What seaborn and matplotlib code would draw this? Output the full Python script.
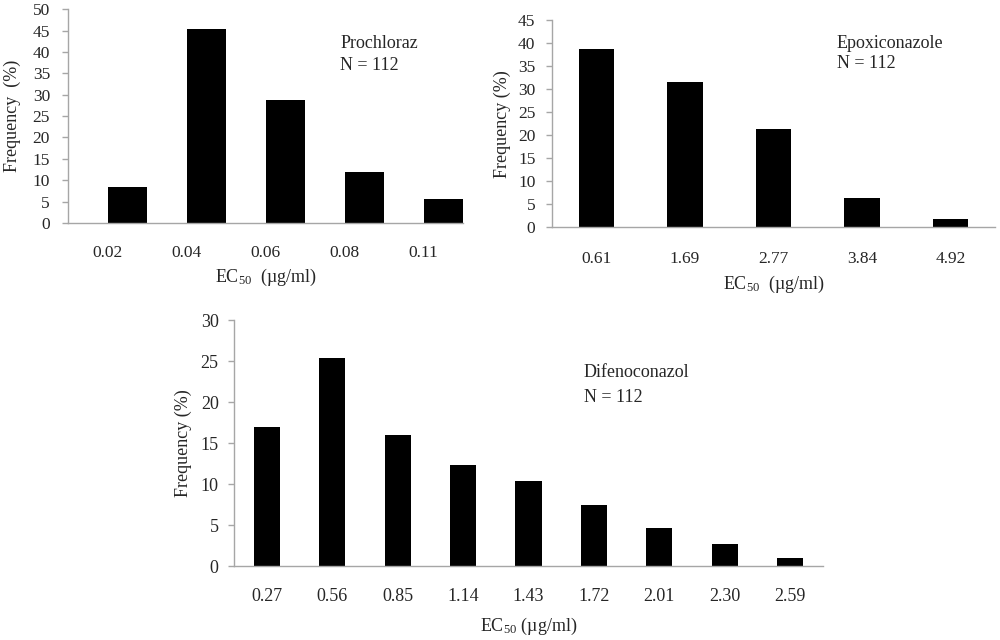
import matplotlib
matplotlib.use("Agg")
import matplotlib.pyplot as plt
import seaborn as sns
import pandas as pd
import numpy as np

# ---- data ----
pro_labels = ["0.02", "0.04", "0.06", "0.08", "0.11"]
pro_values = [8.3, 45.3, 28.7, 12.0, 5.5]

epo_labels = ["0.61", "1.69", "2.77", "3.84", "4.92"]
epo_values = [38.8, 31.5, 21.3, 6.45, 1.8]

dif_labels = ["0.27", "0.56", "0.85", "1.14", "1.43", "1.72", "2.01", "2.30", "2.59"]
dif_values = [16.95, 25.45, 16.0, 12.3, 10.37, 7.5, 4.67, 2.64, 0.98]

sns.set_style("white")
plt.rcParams["font.family"] = ["Liberation Serif", "DejaVu Serif"]
plt.rcParams["mathtext.fontset"] = "custom"
plt.rcParams["mathtext.rm"] = "Liberation Serif"
plt.rcParams["mathtext.it"] = "Liberation Serif:italic"

GRAY = "#a6a6a6"

fig = plt.figure(figsize=(10, 6.4), dpi=100)
ax1 = fig.add_axes([0.068, 0.6516, 0.395, 0.334])
ax2 = fig.add_axes([0.552, 0.645, 0.443, 0.323])
ax3 = fig.add_axes([0.234, 0.1156, 0.589, 0.384])

# top-left: bars sit in the right half of each category (Excel style clustered with empty first series)
df1 = pd.DataFrame({"EC50": pro_labels, "Frequency": pro_values, "series": "Prochloraz"})
sns.barplot(data=df1, x="EC50", y="Frequency", hue="series", order=pro_labels,
            hue_order=["_gap", "Prochloraz"],
            palette={"_gap": "black", "Prochloraz": "black"},
            width=1.0, dodge=True, legend=False, saturation=1,
            edgecolor="black", linewidth=0, ax=ax1)

df2 = pd.DataFrame({"EC50": epo_labels, "Frequency": epo_values})
sns.barplot(data=df2, x="EC50", y="Frequency", order=epo_labels, color="black",
            width=0.4, saturation=1, edgecolor="black", linewidth=0, ax=ax2)

df3 = pd.DataFrame({"EC50": dif_labels, "Frequency": dif_values})
sns.barplot(data=df3, x="EC50", y="Frequency", order=dif_labels, color="black",
            width=0.4, saturation=1, edgecolor="black", linewidth=0, ax=ax3)

def style(ax, ymax, step, tick_fs, ypad, xpad, xlabel, ylabel, xlabelpad, ylabelpad, n):
    ax.set_ylim(0, ymax)
    ax.set_xlim(-0.5, n - 0.5)
    ax.set_yticks(np.arange(0, ymax + 0.1, step))
    for s in ["top", "right"]:
        ax.spines[s].set_visible(False)
    for s in ["left", "bottom"]:
        ax.spines[s].set_color(GRAY)
        ax.spines[s].set_linewidth(1.0)
    ax.tick_params(axis="y", direction="out", length=4, width=1, color=GRAY,
                   labelsize=tick_fs, pad=ypad, left=True)
    ax.tick_params(axis="x", length=0, labelsize=tick_fs, pad=xpad)
    ax.set_xlabel(xlabel, fontsize=13, labelpad=xlabelpad)
    ax.set_ylabel(ylabel, fontsize=13, labelpad=ylabelpad)
    ax.grid(False)

style(ax1, 50, 5, 12.5, 9, 16, r"EC$_{50}$  (µg/ml)", "Frequency  (%)", 4, 8, len(pro_labels))
style(ax2, 45, 5, 12.5, 8, 17, r"EC$_{50}$  (µg/ml)", "Frequency (%)", 5, 5, len(epo_labels))
style(ax3, 30, 5, 13, 7, 16, r"EC$_{50}$ (µg/ml)", "Frequency (%)", 8, 6, len(dif_labels))

ax1.text(0.689, 0.841, "Prochloraz", transform=ax1.transAxes, fontsize=13, va="center", ha="left")
ax1.text(0.689, 0.738, "N = 112", transform=ax1.transAxes, fontsize=13, va="center", ha="left")
ax2.text(0.643, 0.889, "Epoxiconazole", transform=ax2.transAxes, fontsize=13, va="center", ha="left")
ax2.text(0.643, 0.792, "N = 112", transform=ax2.transAxes, fontsize=13, va="center", ha="left")
ax3.text(0.594, 0.789, "Difenoconazol", transform=ax3.transAxes, fontsize=13, va="center", ha="left")
ax3.text(0.594, 0.687, "N = 112", transform=ax3.transAxes, fontsize=13, va="center", ha="left")

fig.savefig("out.png", dpi=100, facecolor="white")
